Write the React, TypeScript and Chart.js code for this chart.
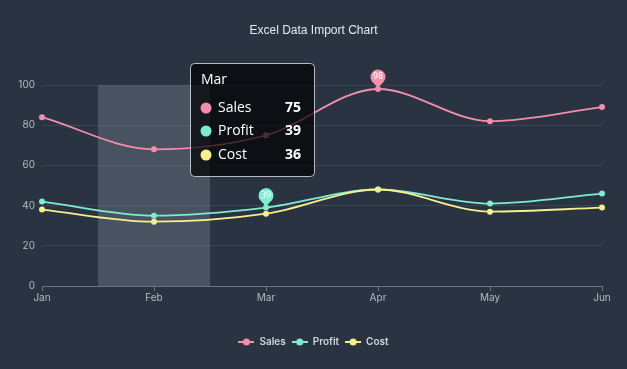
import React, { useEffect, useRef } from "react";
import { Chart, registerables } from "chart.js";

Chart.register(...registerables);

const categories = ["Jan", "Feb", "Mar", "Apr", "May", "Jun"];
const sales = [84, 68, 75, 98, 82, 89];
const profit = [42, 35, 39, 48, 41, 46];
const cost = [38, 32, 36, 48, 37, 39];
const seriesNames = ["Sales", "Profit", "Cost"];
const seriesValues = [sales, profit, cost];
const seriesColors = ["#f38fab", "#7eecd0", "#f6ef8b"];
const yMin = 0;
const yMax = 100;
const yStep = 20;
const titleText = "Excel Data Import Chart";
const tooltipIndex = 2; // Mar
const shadowIndex = 1; // Feb
const pinMarks = [
  { series: 0, index: 3 },
  { series: 1, index: 2 },
];

const BG = "#2a3341";

function makeLegendIcon(color: string): HTMLCanvasElement {
  const c = document.createElement("canvas");
  c.width = 16;
  c.height = 10;
  const g = c.getContext("2d")!;
  g.strokeStyle = color;
  g.lineWidth = 2;
  g.beginPath();
  g.moveTo(0, 5);
  g.lineTo(16, 5);
  g.stroke();
  g.fillStyle = color;
  g.beginPath();
  g.arc(8, 5, 3.5, 0, Math.PI * 2);
  g.fill();
  return c;
}

function drawPin(ctx: CanvasRenderingContext2D, x: number, y: number, color: string, text: string) {
  const r = 7.5;
  const cy = y - 12;
  const theta = 0.7;
  ctx.save();
  ctx.fillStyle = color;
  ctx.beginPath();
  ctx.arc(x, cy, r, Math.PI / 2 + theta, Math.PI / 2 - theta, false);
  ctx.quadraticCurveTo(x + 1.5, cy + r + 1, x, y);
  ctx.quadraticCurveTo(x - 1.5, cy + r + 1, x + r * Math.cos(Math.PI / 2 + theta), cy + r * Math.sin(Math.PI / 2 + theta));
  ctx.closePath();
  ctx.fill();
  ctx.fillStyle = "#ffffff";
  ctx.font = "8px 'DejaVu Sans', sans-serif";
  ctx.textAlign = "center";
  ctx.textBaseline = "middle";
  ctx.fillText(text, x, cy);
  ctx.restore();
}

function roundRect(ctx: CanvasRenderingContext2D, x: number, y: number, w: number, h: number, r: number) {
  ctx.beginPath();
  ctx.moveTo(x + r, y);
  ctx.lineTo(x + w - r, y);
  ctx.arcTo(x + w, y, x + w, y + r, r);
  ctx.lineTo(x + w, y + h - r);
  ctx.arcTo(x + w, y + h, x + w - r, y + h, r);
  ctx.lineTo(x + r, y + h);
  ctx.arcTo(x, y + h, x, y + h - r, r);
  ctx.lineTo(x, y + r);
  ctx.arcTo(x, y, x + r, y, r);
  ctx.closePath();
}

const overlayPlugin = {
  id: "overlay",
  beforeDatasetsDraw(chart: any) {
    const { ctx, chartArea, scales } = chart;
    const x = scales.x;
    const step = x.getPixelForValue(1) - x.getPixelForValue(0);
    const cx = x.getPixelForValue(shadowIndex);
    ctx.save();
    ctx.fillStyle = "rgba(140,150,165,0.32)";
    ctx.fillRect(cx - step / 2, chartArea.top, step, chartArea.bottom - chartArea.top);
    ctx.restore();
  },
  afterDatasetsDraw(chart: any) {
    const { ctx, scales } = chart;
    pinMarks.forEach((p) => {
      const v = seriesValues[p.series][p.index];
      const px = scales.x.getPixelForValue(p.index);
      const py = scales.y.getPixelForValue(v);
      drawPin(ctx, px, py, seriesColors[p.series], String(v));
    });
  },
  afterDraw(chart: any) {
    const { ctx, chartArea, scales } = chart;
    const px = scales.x.getPixelForValue(tooltipIndex);
    const left = px - 76;
    const top = chartArea.top - 22;
    const w = 124;
    const h = 113;
    ctx.save();
    roundRect(ctx, left + 0.5, top + 0.5, w, h, 4);
    ctx.fillStyle = "rgba(0,0,0,0.7)";
    ctx.fill();
    ctx.strokeStyle = "rgba(210,214,220,0.85)";
    ctx.lineWidth = 1;
    ctx.stroke();
    ctx.fillStyle = "#ffffff";
    ctx.textBaseline = "middle";
    ctx.textAlign = "left";
    ctx.font = "14px 'Open Sans', sans-serif";
    ctx.fillText(categories[tooltipIndex], left + 11, top + 17);
    const rows = [45, 68, 92];
    seriesNames.forEach((name, i) => {
      const ry = top + rows[i];
      ctx.fillStyle = seriesColors[i];
      ctx.beginPath();
      ctx.arc(left + 16, ry, 5.5, 0, Math.PI * 2);
      ctx.fill();
      ctx.fillStyle = "#ffffff";
      ctx.textAlign = "left";
      ctx.font = "14px 'Open Sans', sans-serif";
      ctx.fillText(name, left + 28, ry);
      ctx.textAlign = "right";
      ctx.font = "bold 14px 'Open Sans', sans-serif";
      ctx.fillText(String(seriesValues[i][tooltipIndex]), left + 111, ry);
    });
    ctx.restore();
  },
};

export default function App() {
  const ref = useRef<HTMLCanvasElement | null>(null);

  useEffect(() => {
    if (!ref.current) return;
    const icons = seriesColors.map(makeLegendIcon);
    const chart = new Chart(ref.current, {
      type: "line",
      data: {
        labels: categories,
        datasets: seriesNames.map((name, i) => ({
          label: name,
          data: seriesValues[i],
          borderColor: seriesColors[i],
          backgroundColor: seriesColors[i],
          pointBackgroundColor: seriesColors[i],
          pointBorderWidth: 0,
          pointRadius: 3,
          borderWidth: 1.8,
          tension: 0.4,
          cubicInterpolationMode: "monotone" as const,
          fill: false,
          order: 2 - i,
        })),
      },
      options: {
        animation: false,
        responsive: false,
        maintainAspectRatio: false,
        events: [],
        layout: { padding: { left: 0, right: 0, top: 0, bottom: 12 } },
        plugins: {
          title: {
            display: true,
            text: titleText,
            color: "#e8eaed",
            font: { family: "'Liberation Sans', Arial, sans-serif", size: 12, weight: "normal" },
            padding: { top: 23, bottom: 47.6 },
          },
          legend: {
            display: true,
            position: "bottom",
            labels: {
              usePointStyle: true,
              pointStyleWidth: 16,
              padding: 6,
              color: "#d1d5db",
              font: { family: "Inter, 'Noto Sans', sans-serif", size: 10, weight: "600" },
              generateLabels: (c: any) =>
                Chart.defaults.plugins.legend.labels
                  .generateLabels(c)
                  .sort((a: any, b: any) => a.datasetIndex - b.datasetIndex)
                  .map((l: any) => ({ ...l, pointStyle: icons[l.datasetIndex] })),
            },
          },
          tooltip: { enabled: false },
        },
        scales: {
          x: {
            type: "category",
            offset: false,
            afterFit: (s: any) => {
              s.height = 45;
            },
            grid: {
              display: true,
              drawOnChartArea: false,
              drawTicks: true,
              tickLength: 5,
              color: "#6b7380",
              offset: false,
            },
            border: { display: true, color: "#6b7380", width: 1 },
            ticks: {
              color: "#b4b9c1",
              padding: 1,
              font: { family: "Inter, 'Noto Sans', sans-serif", size: 10 },
              maxRotation: 0,
            },
          },
          y: {
            min: yMin,
            max: yMax,
            afterFit: (s: any) => {
              s.width = 42;
            },
            grid: {
              color: "rgba(255,255,255,0.09)",
              drawTicks: false,
            },
            border: { display: false },
            ticks: {
              stepSize: yStep,
              color: "#b4b9c1",
              padding: 7,
              font: { family: "Inter, 'Noto Sans', sans-serif", size: 10 },
            },
          },
          yRight: {
            type: "linear",
            position: "right",
            min: yMin,
            max: yMax,
            afterFit: (s: any) => {
              s.width = 25;
            },
            grid: { display: false, drawTicks: false },
            border: { display: false },
            ticks: { display: false },
          },
        },
      },
      plugins: [overlayPlugin],
    } as any);
    return () => chart.destroy();
  }, []);

  return (
    <div style={{ position: "fixed", left: 0, top: 0, width: 627, height: 369, background: BG }}>
      <canvas ref={ref} width={627} height={369} style={{ width: 627, height: 369, display: "block" }} />
    </div>
  );
}
